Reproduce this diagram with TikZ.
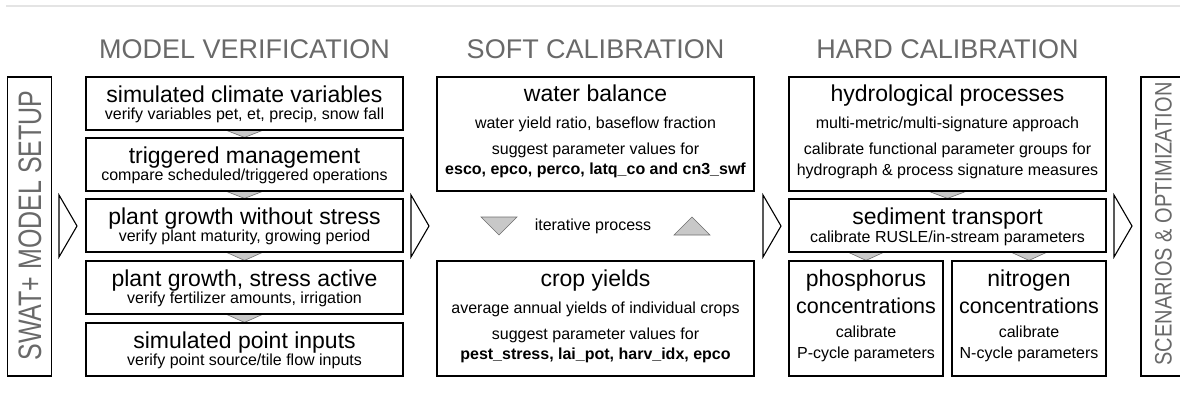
\documentclass[tikz,border=0pt]{standalone}
\usepackage{fontspec}
\setmainfont{Liberation Sans}
\usepackage{tikz}
\usetikzlibrary{positioning}
\definecolor{hdgray}{RGB}{105,105,105}
\definecolor{trigray}{RGB}{200,200,200}
\definecolor{rulegray}{RGB}{228,228,228}
\pgfdeclarelayer{bg}
\pgfsetlayers{bg,main}

\begin{document}
\begin{tikzpicture}[x=1pt, y=-1pt,
    box/.style={draw, line width=1.2pt, inner sep=0pt, fill=white},
    head/.style={anchor=base, inner sep=0pt, text=hdgray, font=\fontsize{27}{32}\selectfont},
    ttl/.style={anchor=base, inner sep=0pt, font=\fontsize{23}{27}\selectfont},
    sub/.style={anchor=base, inner sep=0pt, font=\fontsize{16}{19}\selectfont},
    parm/.style={anchor=base, inner sep=0pt, font=\fontsize{16}{19}\selectfont\bfseries},
    vlbl/.style={rotate=90, inner sep=0pt, text=hdgray},
    tri/.style={fill=trigray, draw=trigray!55!black, line width=0.6pt},
    chev/.style={draw, fill=white, line width=1.1pt, line join=miter}]
  \useasboundingbox (0,0) rectangle (1180,410);
  \clip (0,0) rectangle (1180,410);

  % top rule
  \draw[rulegray, line width=1.2pt] (6,6) -- (1180,6);

  % Headings
  \node[head] (verif) at (244.5,58) {MODEL VERIFICATION};
  \node[head] (soft) at (595.5,58) {SOFT CALIBRATION};
  \node[head] (hard) at (947.5,58) {HARD CALIBRATION};

  % Side boxes
  \node[box, minimum width=44pt, minimum height=299pt] (setup) at (29.5,226.5) {};
  \node[vlbl, font=\fontsize{25}{30}\selectfont] (setuplbl) at (30,225.5) {\scalebox{1}[1.3]{SWAT+ MODEL SETUP}};
  \node[box, minimum width=44pt, minimum height=299pt] (scen) at (1163,226.5) {};
  \node[vlbl, font=\fontsize{20}{24}\selectfont] (scenlbl) at (1163.5,224) {\scalebox{1}[1.19]{SCENARIOS \& OPTIMIZATION}};

  % Big arrows between the stages
  \foreach \x in {59,411,763,1114}
    \draw[chev] (\x,195) -- (\x+18,226) -- (\x,257) -- cycle;

  % Model verification
  \node[box, minimum width=317pt, minimum height=53pt] (climate) at (244.5,103.5) {};
  \node[ttl] (climatet) at ([yshift=-26pt]climate.north) {simulated climate variables};
  \node[sub] (climates) at ([yshift=-43pt]climate.north) {verify variables pet, et, precip, snow fall};

  \node[box, minimum width=317pt, minimum height=53pt] (trig) at (244.5,164.5) {};
  \node[ttl] (trigt) at ([yshift=-26pt]trig.north) {triggered management};
  \node[sub] (trigs) at ([yshift=-43pt]trig.north) {compare scheduled/triggered operations};

  \node[box, minimum width=317pt, minimum height=53pt] (nostress) at (244.5,225.5) {};
  \node[ttl] (nostresst) at ([yshift=-26pt]nostress.north) {plant growth without stress};
  \node[sub] (nostresss) at ([yshift=-43pt]nostress.north) {verify plant maturity, growing period};

  \node[box, minimum width=317pt, minimum height=53pt] (stress) at (244.5,287.5) {};
  \node[ttl] (stresst) at ([yshift=-26pt]stress.north) {plant growth, stress active};
  \node[sub] (stresss) at ([yshift=-43pt]stress.north) {verify fertilizer amounts, irrigation};

  \node[box, minimum width=317pt, minimum height=53pt] (point) at (244.5,349.5) {};
  \node[ttl] (pointt) at ([yshift=-26pt]point.north) {simulated point inputs};
  \node[sub] (points) at ([yshift=-43pt]point.north) {verify point source/tile flow inputs};

  % Soft calibration
  \node[box, minimum width=317pt, minimum height=114pt] (water) at (595.5,134) {};
  \node[ttl] (watert) at ([yshift=-25pt]water.north) {water balance};
  \node[sub] (waters) at ([yshift=-52pt]water.north) {water yield ratio, baseflow fraction};
  \node[sub] (waterp) at ([yshift=-78pt]water.north) {suggest parameter values for};
  \node[parm] (waterv) at ([yshift=-98pt]water.north) {esco, epco, perco, latq\_co and cn3\_swf};

  \node[sub] (iter) at (593,230) {iterative process};
  \draw[tri] (481,217) -- (517,217) -- (499,235) -- cycle;
  \draw[tri] (674,235) -- (710,235) -- (692,217) -- cycle;

  \node[box, minimum width=317pt, minimum height=115pt] (crop) at (595.5,318.5) {};
  \node[ttl] (cropt) at ([yshift=-26pt]crop.north) {crop yields};
  \node[sub] (crops) at ([yshift=-53pt]crop.north) {average annual yields of individual crops};
  \node[sub] (cropp) at ([yshift=-79pt]crop.north) {suggest parameter values for};
  \node[parm] (cropv) at ([yshift=-99pt]crop.north) {pest\_stress, lai\_pot, harv\_idx, epco};

  % Hard calibration
  \node[box, minimum width=317pt, minimum height=114pt] (hydro) at (947.5,134) {};
  \node[ttl] (hydrot) at ([yshift=-25pt]hydro.north) {hydrological processes};
  \node[sub] (hydros) at ([yshift=-52pt]hydro.north) {multi-metric/multi-signature approach};
  \node[sub] (hydrop) at ([yshift=-78pt]hydro.north) {calibrate functional parameter groups for};
  \node[sub] (hydrov) at ([yshift=-99pt]hydro.north) {hydrograph \& process signature measures};

  \node[box, minimum width=317pt, minimum height=53pt] (sed) at (947.5,225.5) {};
  \node[ttl] (sedt) at ([yshift=-26pt]sed.north) {sediment transport};
  \node[sub] (seds) at ([yshift=-44pt]sed.north) {calibrate RUSLE/in-stream parameters};

  \node[box, minimum width=154pt, minimum height=115pt] (phos) at (866,318.5) {};
  \node[ttl] (phost) at ([yshift=-26pt]phos.north) {phosphorus};
  \node[ttl, font=\fontsize{21.5}{26}\selectfont] (phosc) at ([yshift=-53pt]phos.north) {concentrations};
  \node[sub] (phoss) at ([yshift=-77pt]phos.north) {calibrate};
  \node[sub] (phosp) at ([yshift=-98pt]phos.north) {P-cycle parameters};

  \node[box, minimum width=154pt, minimum height=115pt] (nitro) at (1029,318.5) {};
  \node[ttl] (nitrot) at ([yshift=-26pt]nitro.north) {nitrogen};
  \node[ttl, font=\fontsize{21.5}{26}\selectfont] (nitroc) at ([yshift=-53pt]nitro.north) {concentrations};
  \node[sub] (nitros) at ([yshift=-77pt]nitro.north) {calibrate};
  \node[sub] (nitrop) at ([yshift=-98pt]nitro.north) {N-cycle parameters};

  % Flow triangles between boxes
  \begin{pgfonlayer}{bg}
    \draw[tri] ([xshift=-17.5pt]climate.south) -- ([xshift=17.5pt]climate.south) -- (trig.north) -- cycle;
    \draw[tri] ([xshift=-17.5pt]trig.south) -- ([xshift=17.5pt]trig.south) -- (nostress.north) -- cycle;
    \draw[tri] ([xshift=-17.5pt]nostress.south) -- ([xshift=17.5pt]nostress.south) -- (stress.north) -- cycle;
    \draw[tri] ([xshift=-17.5pt]stress.south) -- ([xshift=17.5pt]stress.south) -- (point.north) -- cycle;
    \draw[tri] ([xshift=-18pt]hydro.south) -- ([xshift=18pt]hydro.south) -- (sed.north) -- cycle;
    \draw[tri] ([xshift=-17pt]phos.north |- sed.south) -- ([xshift=17pt]phos.north |- sed.south) -- (phos.north) -- cycle;
    \draw[tri] ([xshift=-17pt]nitro.north |- sed.south) -- ([xshift=17pt]nitro.north |- sed.south) -- (nitro.north) -- cycle;
  \end{pgfonlayer}
\end{tikzpicture}
\end{document}
